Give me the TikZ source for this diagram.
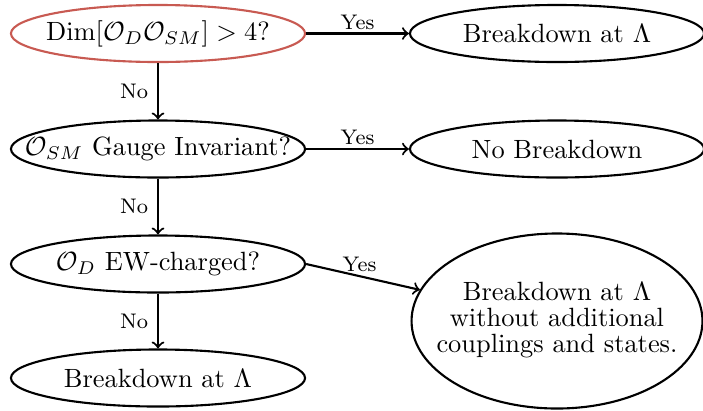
\documentclass[tikz,border=0pt]{standalone}
\usetikzlibrary{shapes.geometric}
\definecolor{redline}{RGB}{200,90,82}
\begin{document}
\begin{tikzpicture}[x=0.3788pt,y=-0.3788pt,
  box/.style={ellipse,draw,thick,inner sep=0pt,minimum width=111.4pt,minimum height=21.6pt},
  big/.style={ellipse,draw,thick,inner sep=0pt,minimum width=110.2pt,minimum height=66.3pt},
  lab/.style={font=\footnotesize},
  ylab/.style={font=\footnotesize,above,inner sep=1.2pt},
  arr/.style={->,thick}]
\useasboundingbox (0,0) rectangle (703,410);
\node[box,draw=redline] (A) at (158,33.5) {\makebox[0pt]{$\mathrm{Dim}[\mathcal{O}_D\mathcal{O}_{SM}]>4$?}};
\node[box] (B) at (557,33.5) {\makebox[0pt]{Breakdown at $\Lambda$}};
\node[box] (C) at (158,149) {\makebox[0pt]{$\mathcal{O}_{SM}$ Gauge Invariant?}};
\node[box] (D) at (557,149) {\makebox[0pt]{No Breakdown}};
\node[box] (E) at (158,264) {\makebox[0pt]{$\mathcal{O}_D$ EW-charged?}};
\node[big] (F) at (557,321) {\makebox[0pt]{\renewcommand\arraystretch{0.81}\begin{tabular}{@{}c@{}}Breakdown at $\Lambda$\\ without additional\\ couplings and states.\end{tabular}}};
\node[box] (G) at (158,378) {\makebox[0pt]{Breakdown at $\Lambda$}};
\draw[arr] (A) -- node[ylab] {Yes} (B);
\draw[arr] (A) -- node[lab,left] {No} (C);
\draw[arr] (C) -- node[ylab] {Yes} (D);
\draw[arr] (C) -- node[lab,left] {No} (E);
\draw[arr] (E.east) -- node[ylab,pos=0.47] {Yes} (F);
\draw[arr] (E) -- node[lab,left] {No} (G);
\end{tikzpicture}
\end{document}
